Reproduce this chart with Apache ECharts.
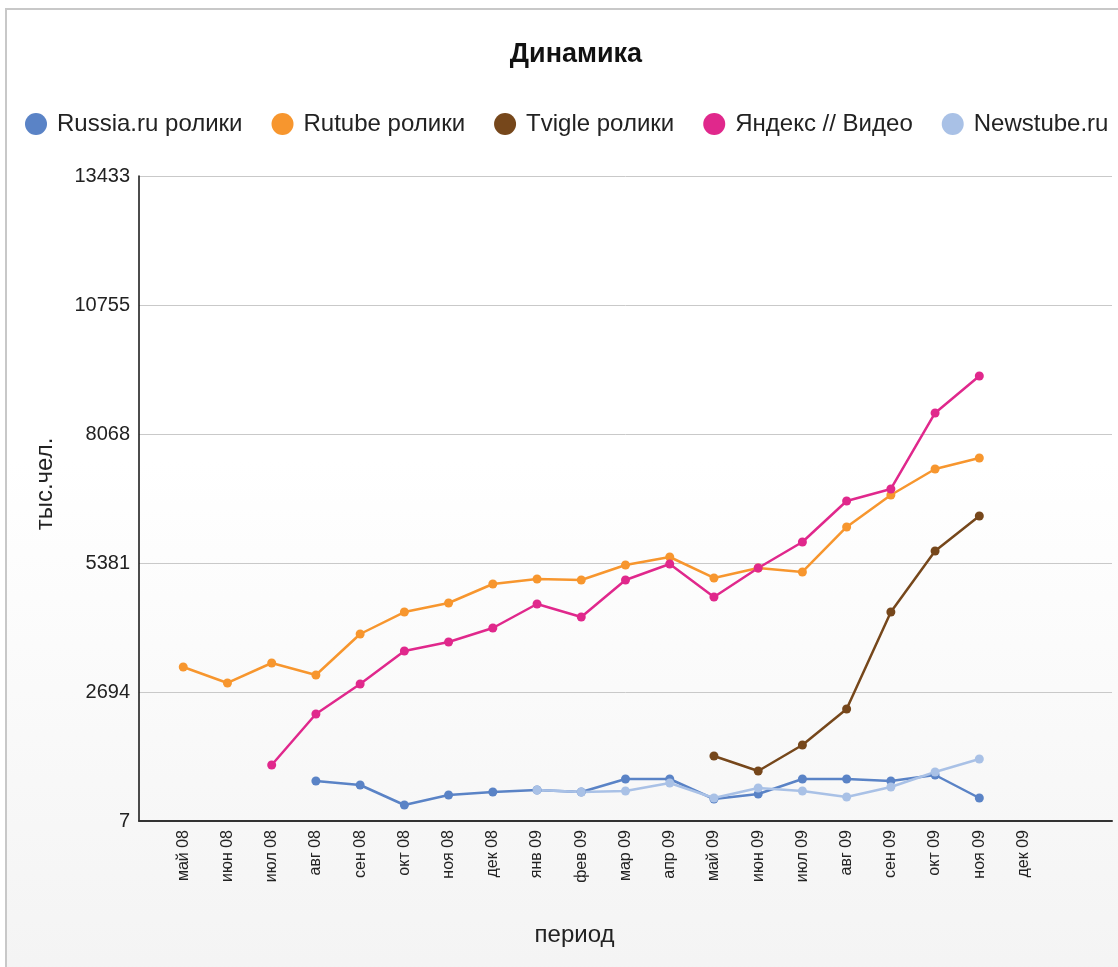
<!DOCTYPE html>
<html>
<head>
<meta charset="utf-8">
<script src="https://cdn.jsdelivr.net/npm/echarts@6/dist/echarts.min.js"></script>
<style>
html,body{margin:0;padding:0;background:#fff;}
#frame{position:absolute;left:5px;top:8px;width:1200px;height:1000px;border-left:2px solid #c8c8c8;border-top:2px solid #c8c8c8;background:linear-gradient(to bottom,#ffffff 0%,#ffffff 45%,#f3f3f3 100%);}
#chart{position:absolute;left:0;top:0;width:1118px;height:967px;}
</style>
</head>
<body>
<div id="frame"></div>
<div id="chart"></div>
<script>
const categories = ['май 08','июн 08','июл 08','авг 08','сен 08','окт 08','ноя 08','дек 08','янв 09','фев 09','мар 09','апр 09','май 09','июн 09','июл 09','авг 09','сен 09','окт 09','ноя 09','дек 09'];
const yTickLabels = ['7','2694','5381','8068','10755','13433'];
const russiaRu = [null,null,null,840,757,340,549,611,653,611,882,882,465,569,882,882,840,965,486,null];
const rutube   = [3215,2882,3298,3048,3902,4360,4548,4944,5048,5027,5339,5506,5069,5277,5194,6131,6798,7339,7568,null];
const tvigle   = [null,null,null,null,null,null,null,null,null,null,null,null,1361,1049,1590,2340,4360,5631,6360,null];
const yandex   = [null,null,1173,2236,2861,3548,3736,4027,4527,4256,5027,5360,4673,5277,5819,6673,6923,8506,9276,null];
const newstube = [null,null,null,null,null,null,null,null,653,611,632,799,486,694,632,507,715,1028,1299,null];

const seriesNames = ['Russia.ru ролики','Rutube ролики','Tvigle ролики','Яндекс // Видео','Newstube.ru'];
const seriesColors = ['#5a83c6','#f7962e','#76471b','#e0288c','#a9c1e6'];
const seriesData = [russiaRu, rutube, tvigle, yandex, newstube];

const pad = arr => [null].concat(arr, [null, null]);
const axisCats = [''].concat(categories, ['', '']);

const chart = echarts.init(document.getElementById('chart'), null, {renderer:'canvas'});
const font = 'Liberation Sans, Arial, sans-serif';
chart.setOption({
  backgroundColor: 'transparent',
  textStyle: {fontFamily: font},
  title: {
    text: 'Динамика', left: 571, textAlign: 'center', top: 36,
    textStyle: {fontFamily: font, fontSize: 27, fontWeight: 'bold', color: '#111'}
  },
  legend: {
    top: 107, left: 20, width: 1115,
    itemGap: 29, itemWidth: 22, itemHeight: 22, icon: 'circle',
    textStyle: {fontFamily: font, fontSize: 24, color: '#222', padding: [0,0,0,5]},
    data: seriesNames
  },
  grid: {left: 139, top: 176, right: 6, bottom: 146, containLabel: false},
  xAxis: {
    type: 'category', data: axisCats, boundaryGap: false,
    name: 'период', nameLocation: 'middle', nameGap: 102,
    nameTextStyle: {fontFamily: font, fontSize: 24, color: '#222', padding: [0, 102, 0, 0]},
    axisLine: {lineStyle: {color: '#333', width: 2}},
    axisTick: {show: false},
    axisLabel: {interval: 0, rotate: 90, fontSize: 16, color: '#222', margin: 9, fontFamily: font}
  },
  yAxis: {
    type: 'value', min: 7, max: 13442, interval: 2687,
    name: 'тыс.чел.', nameLocation: 'middle', nameGap: 82, nameRotate: 90,
    nameTextStyle: {fontFamily: font, fontSize: 24, color: '#222', padding: [0, 0, 0, 29]},
    axisLine: {show: true, lineStyle: {color: '#111', width: 1.5}},
    axisTick: {show: false},
    splitLine: {lineStyle: {color: '#c9c9c9', width: 1}},
    axisLabel: {fontSize: 20, color: '#222', margin: 9, fontFamily: font,
      formatter: (v, i) => yTickLabels[i] !== undefined ? yTickLabels[i] : ''}
  },
  series: seriesNames.map((n, i) => ({
    name: n, type: 'line', data: pad(seriesData[i]),
    symbol: 'circle', symbolSize: 9, showSymbol: true,
    connectNulls: false,
    itemStyle: {color: seriesColors[i]},
    lineStyle: {color: seriesColors[i], width: 2.5}
  }))
});
</script>
</body>
</html>
